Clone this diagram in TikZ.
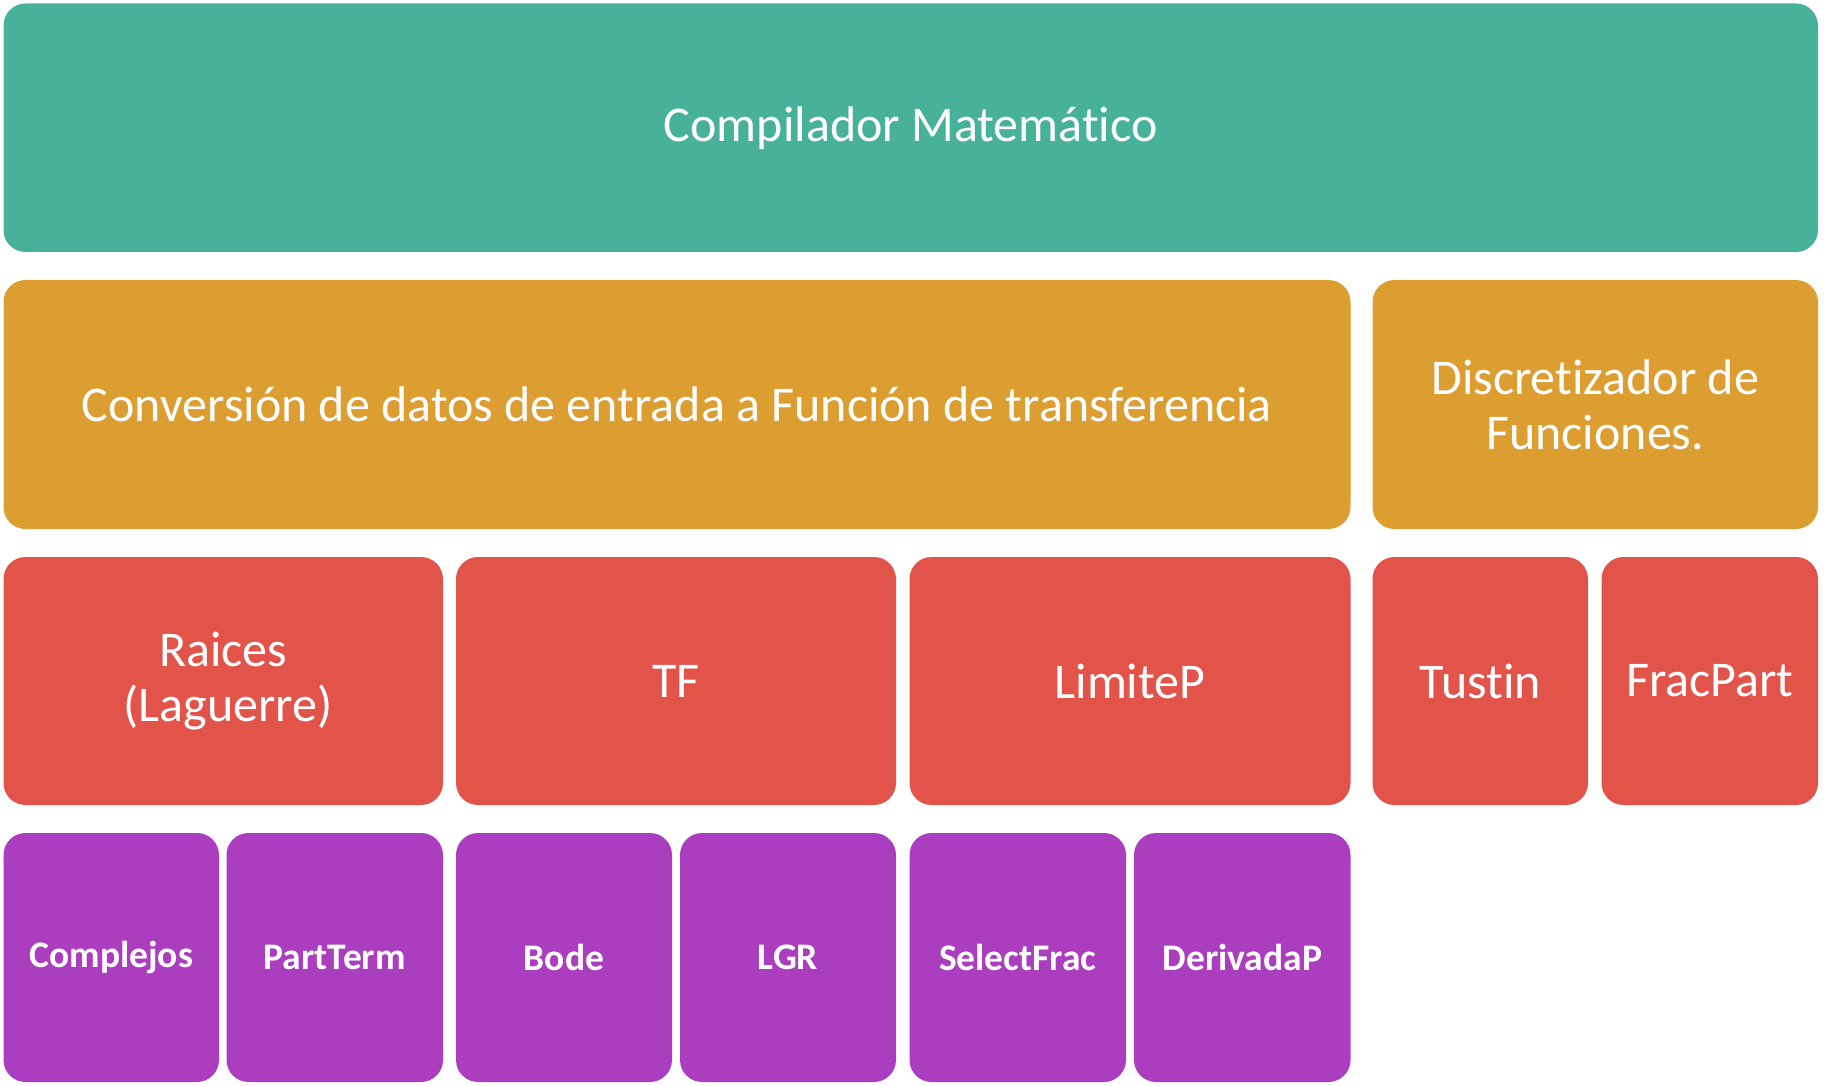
\documentclass[tikz,border=0pt]{standalone}
\usepackage{fontspec}
\setmainfont{Carlito}[Ligatures={NoCommon,NoContextual}, Contextuals=NoAlternate]

\definecolor{cTeal}{HTML}{47B299}
\definecolor{cOrange}{HTML}{DC9D31}
\definecolor{cRed}{HTML}{E2534A}
\definecolor{cPurple}{HTML}{AA3EBE}

% keeps "t" and "i" as separate glyphs
\newcommand\tisep{\kern0pt\relax}

\tikzset{
  blk/.style={rectangle, rounded corners=22pt, inner sep=0pt, outer sep=0pt,
              draw=none, text=white, align=center},
  lvlA/.style={blk, fill=cTeal, font=\fontsize{50}{55}\selectfont},
  lvlB/.style={blk, fill=cOrange, font=\fontsize{50}{55}\selectfont},
  lvlC/.style={blk, fill=cRed, font=\fontsize{50}{55}\selectfont},
  lvlD/.style={blk, fill=cPurple, font=\fontsize{37.5}{41}\selectfont\bfseries},
}

% box from its top-left (x1,y1) to bottom-right (x2,y2), y measured downwards
\newcommand\blk[7]{%
  \node[#2, minimum width={(#5-#3)*1pt}, minimum height={(#6-#4)*1pt}]
    (#1) at ({(#3+#5)/2}, {-(#4+#6)/2}) {#7};}

\begin{document}
\begin{tikzpicture}[x=1pt, y=1pt]
  \useasboundingbox (0,0) rectangle (1824,-1086);

  % level 1
  \blk{comp}{lvlA}{3.5}{3.5}{1818}{252}{Compilador Matemát\tisep ico}

  % level 2
  \blk{conv}{lvlB}{3.5}{280}{1350.5}{529}{Conversión de datos de entrada a Función de transferencia}
  \blk{disc}{lvlB}{1372.5}{280}{1818}{529}{Discret\tisep izador de\\Funciones.}

  % level 3
  \blk{raic}{lvlC}{3.5}{557}{443}{805}{Raices\\\hspace*{10pt}(Laguerre)}
  \blk{tf}{lvlC}{456}{557}{896}{805}{TF}
  \blk{limp}{lvlC}{909.5}{557}{1350.5}{805}{LimiteP}
  \blk{tust}{lvlC}{1372.5}{557}{1588}{805}{Tust\tisep in}
  \blk{frac}{lvlC}{1601.5}{557}{1818}{805}{FracPart}

  % level 4
  \blk{cplx}{lvlD}{3.5}{833}{219}{1082}{Complejos}
  \blk{part}{lvlD}{226.5}{833}{443}{1082}{PartTerm}
  \blk{bode}{lvlD}{456}{833}{672}{1082}{Bode}
  \blk{lgr}{lvlD}{680}{833}{896}{1082}{LGR}
  \blk{sel}{lvlD}{909.5}{833}{1126}{1082}{SelectFrac}
  \blk{der}{lvlD}{1134}{833}{1350.5}{1082}{DerivadaP}
\end{tikzpicture}
\end{document}
